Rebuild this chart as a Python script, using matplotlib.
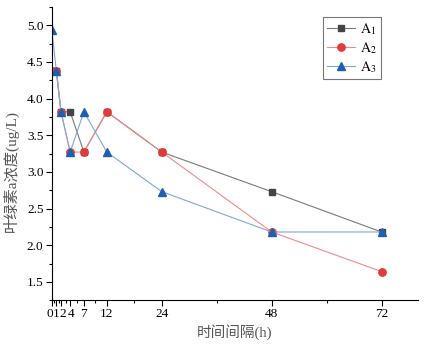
import matplotlib.pyplot as plt
import matplotlib.transforms as mtransforms
from matplotlib.ticker import FixedLocator, MultipleLocator

# datos
horas = [0, 1, 2, 4, 7, 12, 24, 48, 72]
a1 = [4.37, 4.37, 3.82, 3.82, 3.27, 3.82, 3.27, 2.73, 2.18]
a2 = [4.37, 4.37, 3.82, 3.27, 3.27, 3.82, 3.27, 2.18, 1.64]
a3 = [4.93, 4.37, 3.82, 3.27, 3.82, 3.27, 2.73, 2.18, 2.18]
etiquetas_x = ['0', '1', '2', '4', '7', '12', '24', '48', '72']
ticks_menores = [0.5, 1.5, 3, 5.5, 9.5, 18, 36, 60]

plt.rcParams['font.family'] = ['Liberation Serif', 'Noto Sans CJK SC']
plt.rcParams['mathtext.fontset'] = 'stix'

fig = plt.figure(figsize=(4.25, 3.47), dpi=100)
ax = fig.add_axes([0.122, 0.135, 0.862, 0.845])

ax.plot(horas, a1, color='#7a7a7a', lw=0.8, marker='s', ms=4.8,
        mfc='#454545', mec='#454545', label=r'$\mathrm{A}_1$')
ax.plot(horas, a2, color='#f08a8a', lw=0.8, marker='o', ms=5.3,
        mfc='#e23a3a', mec='#e23a3a', label=r'$\mathrm{A}_2$')
ax.plot(horas, a3, color='#7fa6d8', lw=0.8, marker='^', ms=6.3,
        mfc='#1f5fb0', mec='#1f5fb0', label=r'$\mathrm{A}_3$')

ax.set_xlim(0, 80)
ax.set_ylim(1.25, 5.25)
ax.xaxis.set_major_locator(FixedLocator(horas))
ax.set_xticklabels(etiquetas_x)
ax.xaxis.set_minor_locator(FixedLocator(ticks_menores))
ax.yaxis.set_major_locator(MultipleLocator(0.5))
ax.yaxis.set_minor_locator(MultipleLocator(0.25))

ax.spines['top'].set_visible(False)
ax.spines['right'].set_visible(False)
ax.tick_params(which='major', length=4, width=0.8, labelsize=9.5, pad=2)
ax.tick_params(which='minor', length=2.5, width=0.8)

# separar un poco las etiquetas 0,1,2 que quedan muy juntas
desplazamientos = [-2, 0, 2, 0.5, 0, 0, 0, 0, 0]
for etiqueta, dx in zip(ax.get_xticklabels(), desplazamientos):
    etiqueta.set_transform(etiqueta.get_transform() +
                           mtransforms.ScaledTranslation(dx / 100, 0, fig.dpi_scale_trans))

ax.set_xlabel('时间间隔(h)', fontsize=10.5, color='#555555', labelpad=3)
ax.set_ylabel('叶绿素a浓度(ug/L)', fontsize=11, color='#555555')
ax.yaxis.set_label_coords(-0.09, 0.44)

leg = ax.legend(loc='upper left', bbox_to_anchor=(0.74, 0.966), fontsize=10,
                frameon=True, fancybox=False, handlelength=2.0,
                borderpad=0.3, labelspacing=0.22, handletextpad=0.4,
                borderaxespad=0)
leg.get_frame().set_edgecolor('#555555')
leg.get_frame().set_linewidth(0.8)

fig.savefig('out.png', dpi=100)
